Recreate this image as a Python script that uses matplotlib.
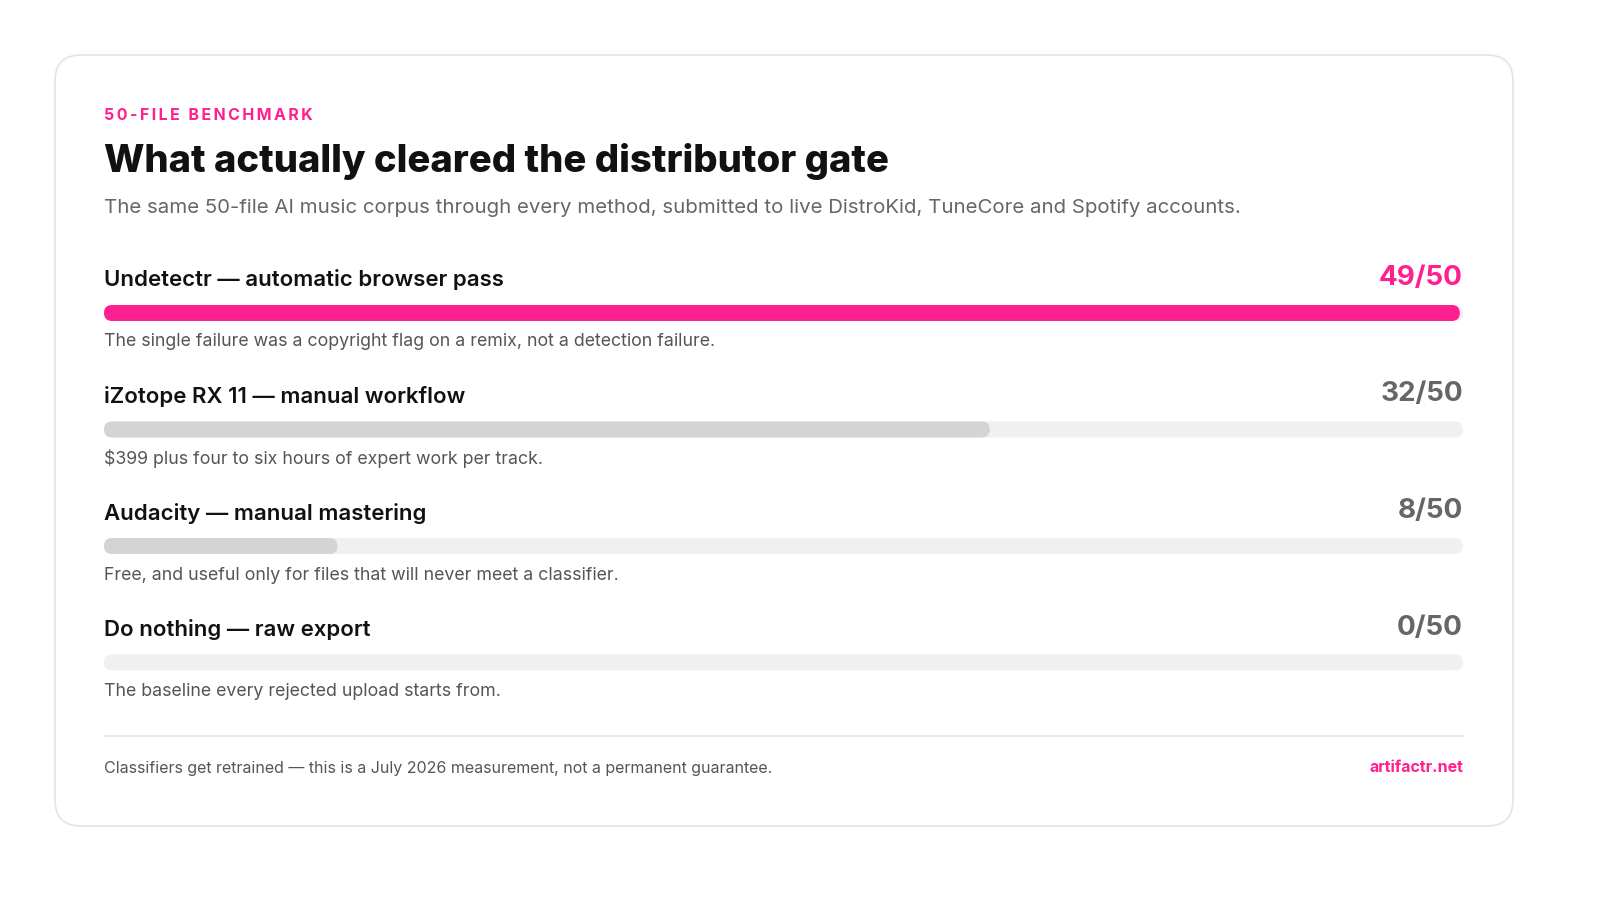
import matplotlib
matplotlib.use('Agg')
import matplotlib.pyplot as plt
from matplotlib.patches import FancyBboxPatch

plt.rcParams['font.family'] = ['Inter', 'DejaVu Sans']

# Dane
methods = ['Undetectr — automatic browser pass', 'iZotope RX 11 — manual workflow',
           'Audacity — manual mastering', 'Do nothing — raw export']
passed = [49, 32, 8, 0]
total = 50
notes = ['The single failure was a copyright flag on a remix, not a detection failure.',
         '$399 plus four to six hours of expert work per track.',
         'Free, and useful only for files that will never meet a classifier.',
         'The baseline every rejected upload starts from.']
highlight = [True, False, False, False]

PINK = '#ff1f8e'
W, H = 1600, 898
fig = plt.figure(figsize=(W / 100, H / 100), dpi=100)
ax = fig.add_axes([0, 0, 1, 1])
ax.set_xlim(0, W)
ax.set_ylim(H, 0)
ax.axis('off')

# karta
ax.add_patch(FancyBboxPatch((55, 55), 1458, 771, boxstyle='round,pad=0,rounding_size=26',
                            fc='white', ec='#e4e4e4', lw=1.2))

x0, x1 = 104, 1463
kicker = '\u2009'.join('50-FILE BENCHMARK')
ax.text(x0, 115, kicker, color=PINK, fontsize=11.5, fontweight='bold',
        va='center', fontfamily=['Inter', 'DejaVu Sans'])
ax.text(x0, 162, 'What actually cleared the distributor gate', color='#111111', fontsize=27.5,
        fontweight='heavy', va='center')
ax.text(x0, 208, 'The same 50-file AI music corpus through every method, submitted to live '
        'DistroKid, TuneCore and Spotify accounts.', color='#666666', fontsize=14.7, va='center')

bar_h = 16
for i, (m, p, n, hl) in enumerate(zip(methods, passed, notes, highlight)):
    y = 280 + i * 116.5
    ax.text(x0, y, m, fontsize=16, fontweight='semibold', color='#111111', va='center')
    ax.text(x1, y - 2, f'{p}/{total}', fontsize=20, fontweight='bold',
            color=PINK if hl else '#666666', va='center', ha='right')
    yb = y + 33
    r = bar_h / 2
    ax.add_patch(FancyBboxPatch((x0 + r, yb), x1 - x0 - 2 * r, 0,
                                boxstyle=f'round,pad={r}', fc='#f0f0f0', ec='none'))
    fw = (x1 - x0) * p / total
    if fw > 0:
        w = min(fw - 2 * r + (3 * r if hl else 2 * r), x1 - x0 - 2 * r)
        ax.add_patch(FancyBboxPatch((x0 + r, yb), w, 0,
                                    boxstyle=f'round,pad={r}', fc=PINK if hl else '#d4d4d4', ec='none'))
    ax.text(x0, y + 62, n, fontsize=12.8, color='#555555', va='center')

ax.plot([x0, x1], [736, 736], color='#e4e4e4', lw=1.2)
ax.text(x0, 768, 'Classifiers get retrained — this is a July 2026 measurement, not a permanent guarantee.',
        fontsize=11.5, color='#555555', va='center')
ax.text(x1, 768, 'artifactr.net', fontsize=11.5, color=PINK, fontweight='bold', va='center', ha='right')

fig.savefig('out.png', dpi=100, facecolor='white')
